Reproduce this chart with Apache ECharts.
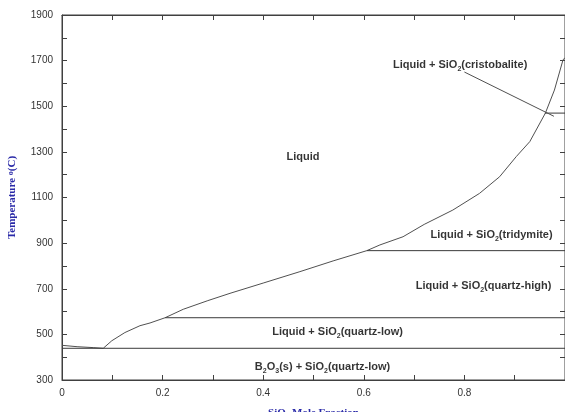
<!DOCTYPE html>
<html>
<head>
<meta charset="utf-8">
<script src="https://cdn.jsdelivr.net/npm/echarts@6/dist/echarts.min.js"></script>
<style>html,body{margin:0;padding:0;background:#fff;}#c{width:565px;height:412px;}</style>
</head>
<body>
<div id="c"></div>
<script>
// Liquidus curve (SiO2 mole fraction, temperature °C)
const liquidusX = [0, 0.03, 0.062, 0.082, 0.099, 0.125, 0.155, 0.175, 0.205, 0.241, 0.29, 0.334, 0.40, 0.473, 0.539, 0.606, 0.632, 0.678, 0.72, 0.777, 0.83, 0.87, 0.903, 0.93, 0.961, 0.979, 0.996, 1.0];
const liquidusT = [452, 446, 442, 439, 472, 508, 538, 550, 573, 610, 648, 680, 725, 775, 822, 867, 892, 928, 982, 1045, 1118, 1191, 1279, 1345, 1470, 1571, 1703, 1713];
// Isotherms (invariant lines): start x and temperature, all run to x = 1
const isothermStartX = [0, 0.205, 0.606, 0.96];
const isothermT = [439, 573, 867, 1470];
// Leader line from cristobalite label
const leaderX = [0.80, 0.978];
const leaderT = [1650, 1456];
// Region labels
const regionLabels = [
  'Liquid',
  'Liquid + SiO{s|2}(cristobalite)',
  'Liquid + SiO{s|2}(tridymite)',
  'Liquid + SiO{s|2}(quartz-high)',
  'Liquid + SiO{s|2}(quartz-low)',
  'B{s|2}O{s|3}(s) + SiO{s|2}(quartz-low)'
];
const regionX = [0.479, 0.7915, 0.854, 0.838, 0.548, 0.518];
const regionT = [1277, 1681, 935, 712, 510, 358];
// Axis settings
const xMin = 0, xMax = 1, xStep = 0.1;
const yMin = 300, yMax = 1900, yStep = 100;

const axisColor = '#404040';
const chart = echarts.init(document.getElementById('c'));

const lineBase = () => ({type: 'line', showSymbol: false, symbol: 'none', silent: true, smooth: false,
  lineStyle: {color: '#3a3a3a', width: 1}, animation: false});

const series = [];
series.push(Object.assign(lineBase(), {
  data: liquidusX.map((x, i) => [x, liquidusT[i]]),
  lineStyle: {color: '#505050', width: 1}
}));
isothermT.forEach((t, i) => {
  series.push(Object.assign(lineBase(), {data: [[isothermStartX[i], t], [xMax, t]]}));
});
series.push(Object.assign(lineBase(), {
  data: leaderX.map((x, i) => [x, leaderT[i]]),
  lineStyle: {color: '#505050', width: 1}
}));
series.push({
  type: 'scatter', symbolSize: 0, silent: true, animation: false,
  data: regionX.map((x, i) => ({value: [x, regionT[i]], name: regionLabels[i]})),
  label: {
    show: true, position: 'inside',
    formatter: p => regionLabels[p.dataIndex].replace(/(^|\})([^{]*)(\{|$)/g, (m, a, txt, b) => a + (txt ? '{b|' + txt + '}' : '') + b),
    rich: {
      b: {fontFamily: 'Liberation Sans', fontWeight: 'bold', fontSize: 11, color: '#000', lineHeight: 15, verticalAlign: 'middle'},
      s: {fontFamily: 'Liberation Sans', fontWeight: 'bold', fontSize: 7, color: '#000', lineHeight: 15, verticalAlign: 'bottom', padding: [5, 0, 0, 0]}
    }
  }
});

const xLabelFmt = v => {
  const k = Math.round(v * 10);
  if (k % 2 !== 0 || k >= 10) return '';
  return k === 0 ? '0' : (k / 10).toFixed(1);
};
const yLabelFmt = v => ((Math.round(v) - yMin) % 200 === 0 ? String(Math.round(v)) : '');

const tickStyle = (inside) => ({show: true, inside: inside, length: 5, lineStyle: {color: axisColor, width: 1}});
const lineStyleAx = (show) => ({show: show, onZero: false, lineStyle: {color: axisColor, width: 1}});

chart.setOption({
  animation: false,
  backgroundColor: '#fff',
  grid: {left: 62, right: 0, top: 15, bottom: 32, containLabel: false, outerBoundsMode: 'none',
    show: true, borderColor: axisColor, borderWidth: 1, backgroundColor: 'transparent'},
  xAxis: [{
    type: 'value', min: xMin, max: xMax, interval: xStep, position: 'bottom',
    axisLine: lineStyleAx(true), axisTick: tickStyle(true), splitLine: {show: false},
    axisLabel: {formatter: xLabelFmt, margin: 8, fontFamily: 'Liberation Sans', fontSize: 10, color: '#333', showMaxLabel: false},
    name: 'SiO{s|2} Mole Fraction', nameLocation: 'middle', nameGap: 28,
    nameTextStyle: {fontFamily: 'Liberation Serif', fontWeight: 'bold', fontSize: 11, color: '#2a2aa8',
      rich: {s: {fontFamily: 'Liberation Serif', fontWeight: 'bold', fontSize: 7, color: '#2a2aa8', verticalAlign: 'bottom'}}}
  }, {
    type: 'value', min: xMin, max: xMax, interval: xStep, position: 'top',
    axisLine: lineStyleAx(true), axisTick: tickStyle(true), axisLabel: {show: false}, splitLine: {show: false}
  }],
  yAxis: [{
    type: 'value', min: yMin, max: yMax, interval: yStep, position: 'left',
    axisLine: lineStyleAx(true), axisTick: tickStyle(true), splitLine: {show: false},
    axisLabel: {formatter: yLabelFmt, margin: 9, fontFamily: 'Liberation Sans', fontSize: 10, color: '#333'},
    name: 'Temperature {sup|o}(C)', nameLocation: 'middle', nameRotate: 90, nameGap: 44,
    nameTextStyle: {fontFamily: 'Liberation Serif', fontWeight: 'bold', fontSize: 11, color: '#2a2aa8',
      rich: {sup: {fontFamily: 'Liberation Serif', fontWeight: 'bold', fontSize: 8, color: '#2a2aa8', verticalAlign: 'top'}}}
  }, {
    type: 'value', min: yMin, max: yMax, interval: yStep, position: 'right', offset: -5,
    axisLine: lineStyleAx(false), axisTick: tickStyle(false), axisLabel: {show: false}, splitLine: {show: false}
  }],
  series: series
});
</script>
</body>
</html>
